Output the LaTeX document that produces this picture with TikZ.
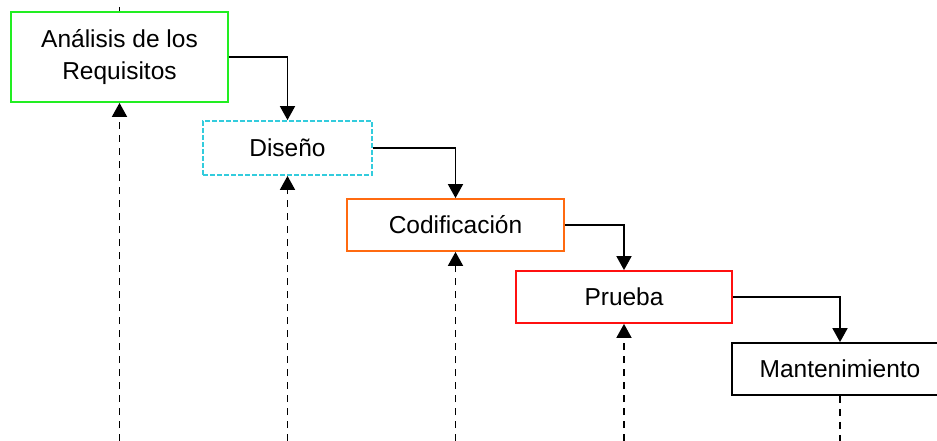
\documentclass[tikz,border=0pt]{standalone}
\usepackage{fontspec}
\setmainfont{Liberation Sans}
\usetikzlibrary{arrows.meta}
\definecolor{boxgreen}{HTML}{22EE22}
\definecolor{boxcyan}{HTML}{33CCDD}
\definecolor{boxorange}{HTML}{FF6A10}
\definecolor{boxred}{HTML}{FF1010}
\tikzset{
  phase/.style={draw, line width=1.8pt, fill=white, inner sep=0pt, align=center,
    font=\fontsize{24.5}{32}\selectfont},
  flow/.style={line width=1.8pt, -{Triangle[width=15pt,length=14pt]}},
  back/.style={line width=1.8pt, dash pattern=on 7pt off 6pt},
  backarrow/.style={back, -{Triangle[width=15pt,length=14pt]}}
}
\begin{document}
\begin{tikzpicture}[x=1pt,y=-1pt]
\useasboundingbox (0,0) rectangle (937,441);
\clip (0,0) rectangle (937,441);
\node[phase, draw=boxgreen, minimum width=217pt, minimum height=90pt] (b1) at (119.5,57) {Análisis de los\\Requisitos};
\node[phase, draw=boxcyan, dash pattern=on 5pt off 2pt, minimum width=169pt, minimum height=54pt] (b2) at (287.5,148) {Diseño};
\node[phase, draw=boxorange, minimum width=217pt, minimum height=52pt] (b3) at (455.5,225) {Codificación};
\node[phase, draw=boxred, minimum width=216pt, minimum height=52pt] (b4) at (624,297) {Prueba};
\node[phase, draw=black, minimum width=216pt, minimum height=52pt] (b5) at (840,369) {Mantenimiento};

\coordinate (t1) at (119.5,7);
\coordinate (u1) at (119.5,441);
\coordinate (u2) at (287.5,441);
\coordinate (u3) at (455.5,441);
\coordinate (u4) at (624,441);
\coordinate (u5) at (840,441);

\draw[line width=1.8pt] (t1) -- (b1.north);
\draw[flow] (b1.east) -| (b2.north);
\draw[flow] (b2.east) -| (b3.north);
\draw[flow] (b3.east) -| (b4.north);
\draw[flow] (b4.east) -| (b5.north);

\draw[backarrow] (u1) -- (b1.south);
\draw[backarrow] (u2) -- (b2.south);
\draw[backarrow] (u3) -- (b3.south);
\draw[backarrow] (u4) -- (b4.south);
\draw[back] (b5.south) -- (u5);
\end{tikzpicture}
\end{document}
